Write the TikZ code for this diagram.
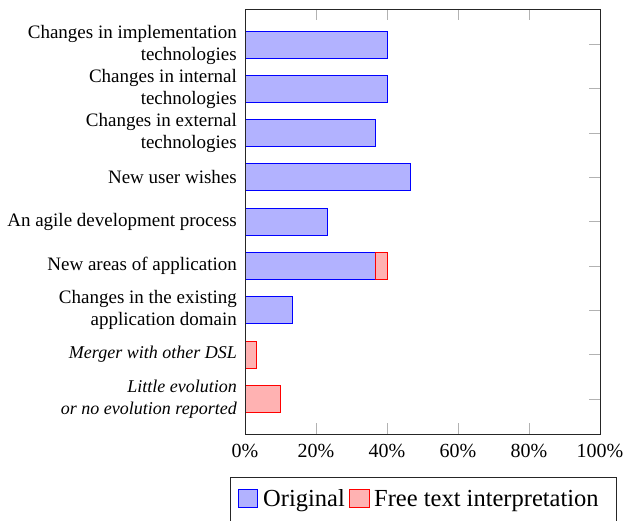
\documentclass[tikz,border=0pt]{standalone}
\usepackage{fontspec}
\setmainfont{Liberation Serif}
\begin{document}
\begin{tikzpicture}[x=1pt,y=-1pt,
  orig/.style={draw=blue,fill=blue!30,line width=0.8pt},
  free/.style={draw=red,fill=red!30,line width=0.8pt},
  catlabel/.style={anchor=east,align=right,font=\fontsize{19}{22}\selectfont,inner sep=0pt},
  itlabel/.style={catlabel,font=\fontsize{18}{22}\selectfont\itshape},
  ticklabel/.style={anchor=base,font=\fontsize{20}{24}\selectfont,inner sep=0pt},
  legtext/.style={anchor=base west,font=\fontsize{24.5}{28}\selectfont,inner sep=0pt},
  tickmark/.style={draw=gray!60,line width=0.8pt},
  axisframe/.style={draw=black!85,line width=0.8pt}]
\useasboundingbox (0,0) rectangle (625,521);

% tick marks (inside the frame)
\foreach \p in {0,20,...,100} {
  \draw[tickmark] ({245+3.55*\p},434) -- ({245+3.55*\p},423);
  \draw[tickmark] ({245+3.55*\p},9) -- ({245+3.55*\p},20);
}
\foreach \yc in {44.5,88.5,133,177,221.5,266,310,354.5,399}
  \draw[tickmark] (600,\yc) -- (589,\yc);

% bars: original answers
\foreach \yc/\v in {44.5/40, 88.5/40, 133/36.67, 177/46.67, 221.5/23.33, 266/36.67, 310/13.33}
  \draw[orig] (245,\yc-13.5) rectangle ({245+3.55*\v},\yc+13.5);
% bars: free text interpretation
\draw[free] ({245+3.55*36.67},252.5) rectangle ({245+3.55*40},279.5);
\draw[free] (245,341) rectangle ({245+3.55*3.33},368);
\draw[free] (245,385.5) rectangle ({245+3.55*10},412.5);

% frame
\draw[axisframe] (245,9) rectangle (600,434);

% category labels
\node[catlabel] (c1) at (237,44.5) {Changes in implementation\\technologies};
\node[catlabel] (c2) at (237,88.5) {Changes in internal\\technologies};
\node[catlabel] (c3) at (237,133) {Changes in external\\technologies};
\node[catlabel] (c4) at (237,177) {New user wishes};
\node[catlabel] (c5) at (237,221.5) {An agile development process};
\node[catlabel] (c6) at (237,266) {New areas of application};
\node[catlabel] (c7) at (237,310) {Changes in the existing\\application domain};
\node[itlabel] (c8) at (237,354.5) {Merger with other DSL};
\node[itlabel] (c9) at (237,399) {Little evolution\\or no evolution reported};

% x tick labels
\foreach \p in {0,20,...,100}
  \node[ticklabel] (t\p) at ({245+3.55*\p},457.5) {\p\%};

% legend
\draw[draw=black!85,line width=0.8pt] (230,477) rectangle (616,523);
\draw[orig] (238.5,489) rectangle (257.5,507);
\node[legtext] (lo) at (263,507) {Original};
\draw[free] (349.5,489) rectangle (369.5,507);
\node[legtext] (lf) at (374,507) {Free text interpretation};
\end{tikzpicture}
\end{document}
